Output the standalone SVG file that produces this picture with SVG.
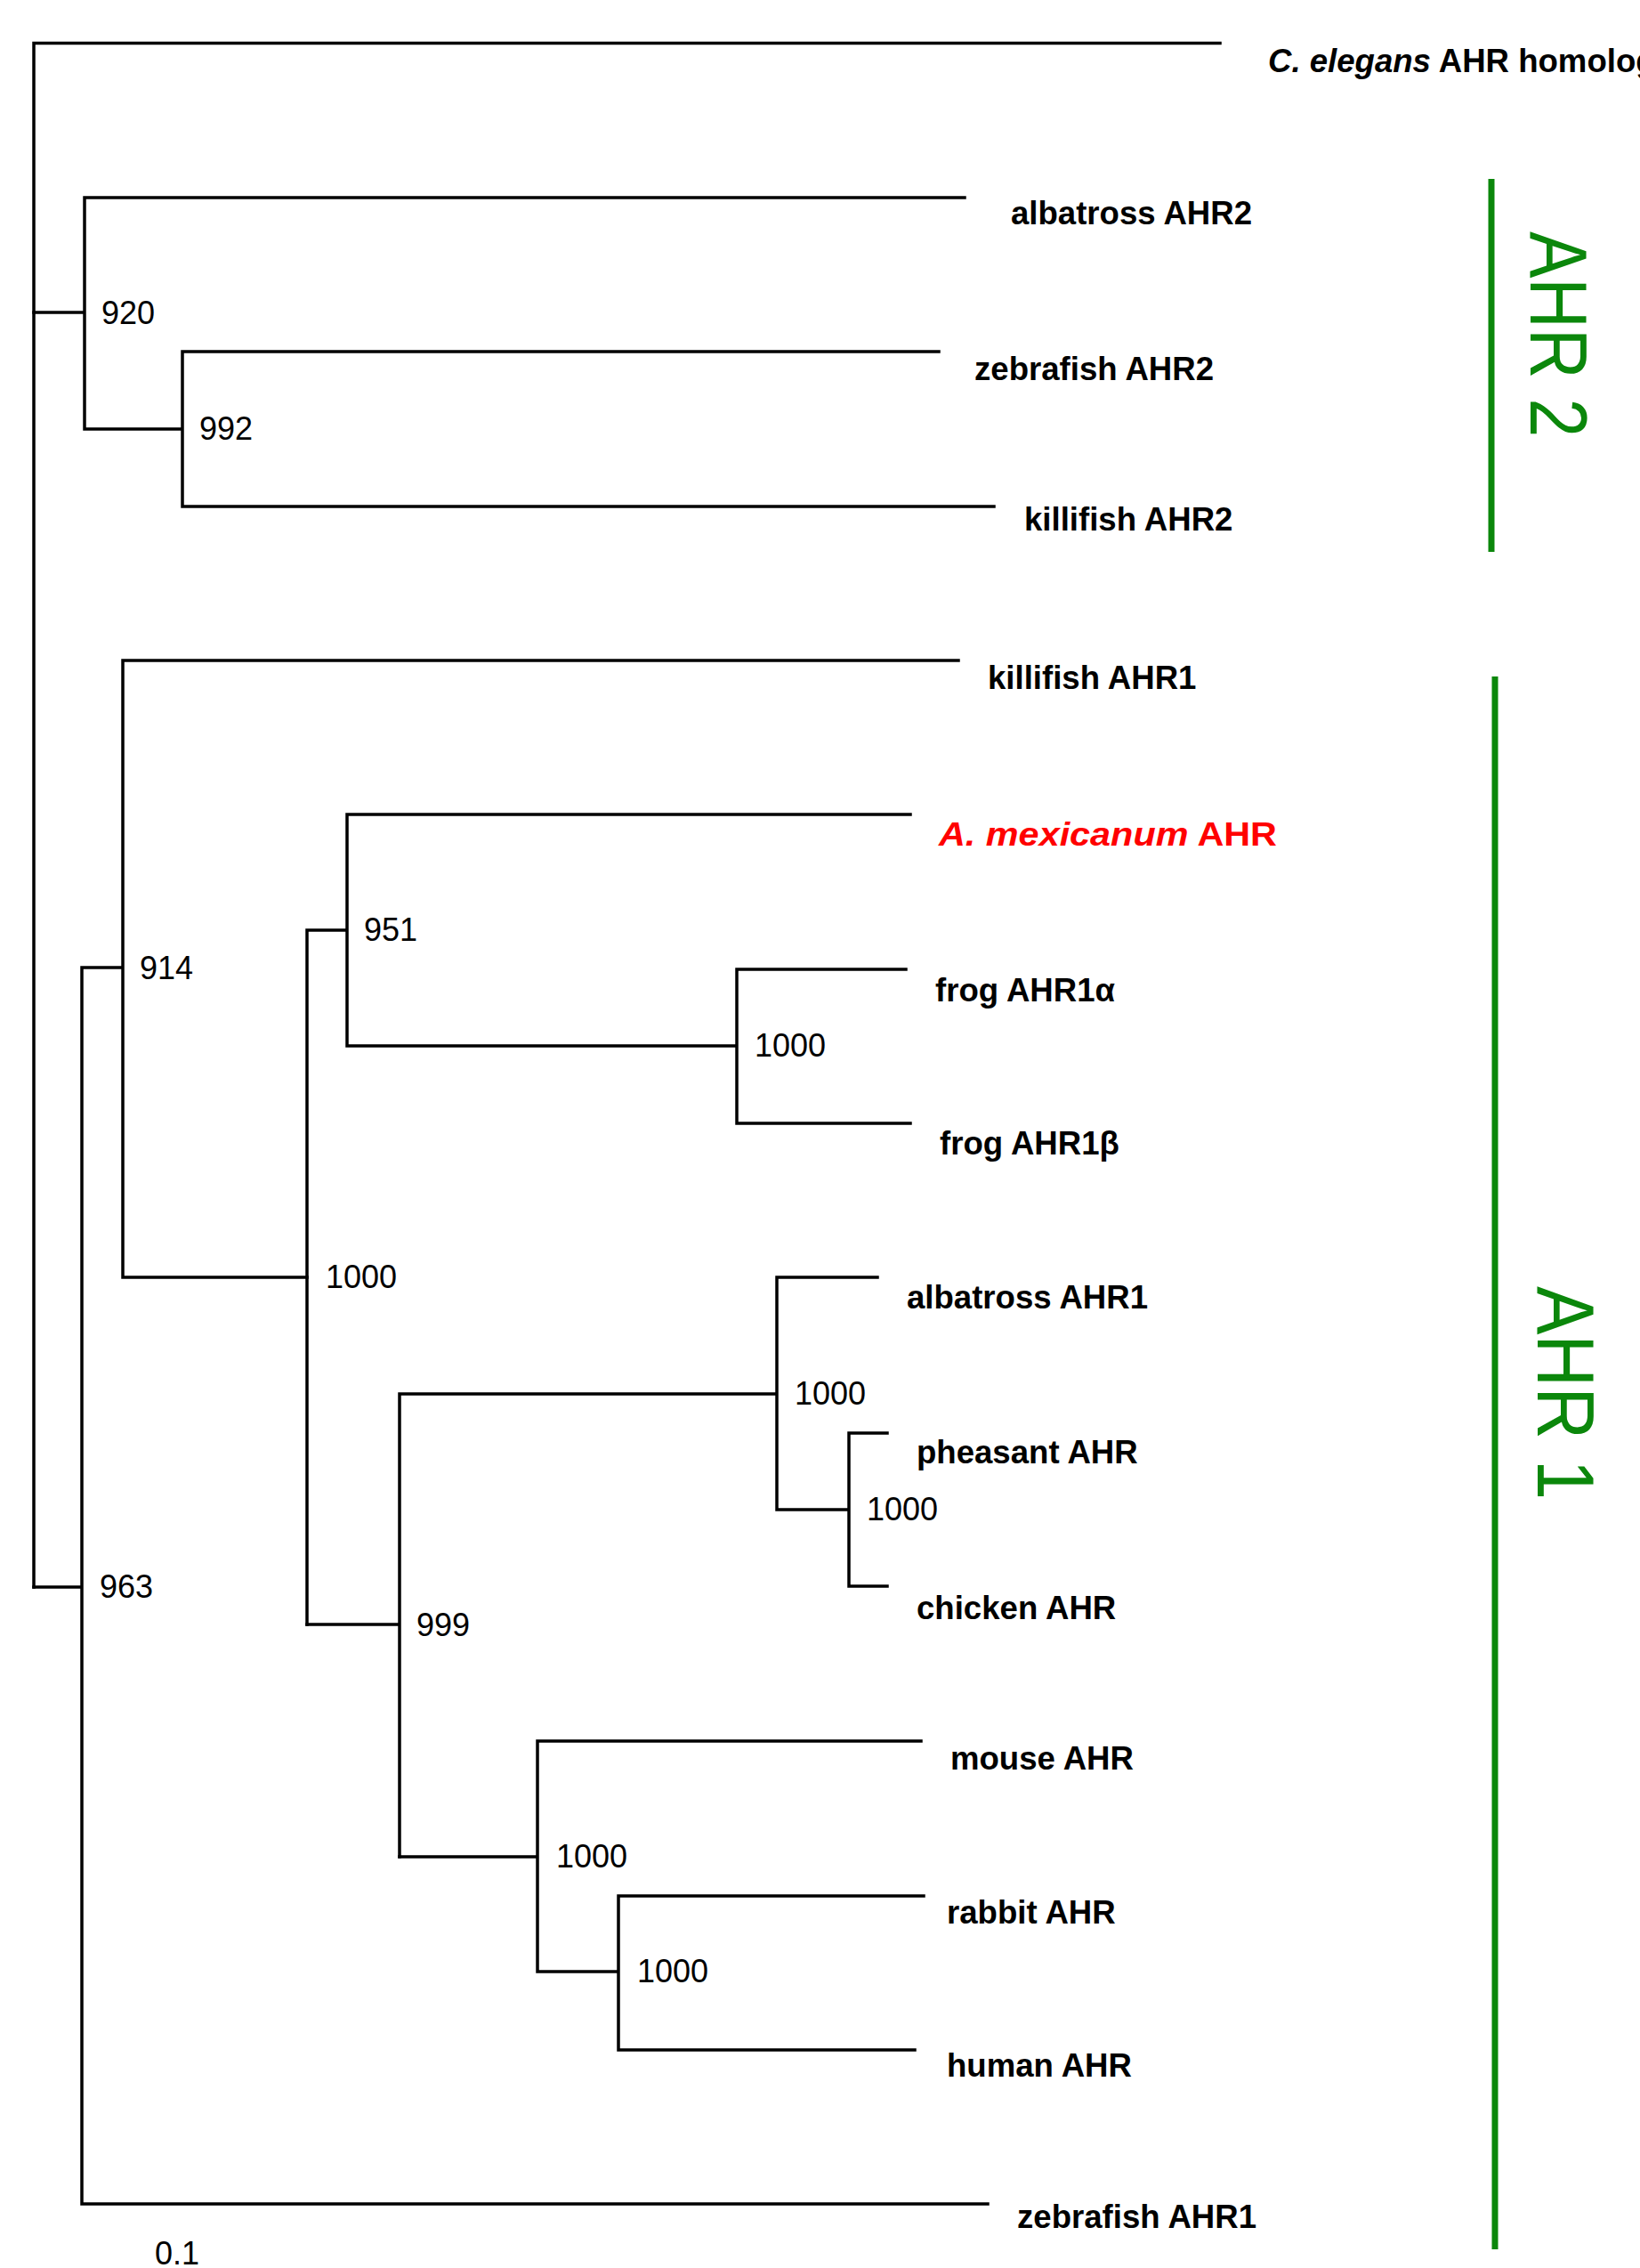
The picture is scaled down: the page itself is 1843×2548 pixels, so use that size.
<svg xmlns="http://www.w3.org/2000/svg" width="1843" height="2548" viewBox="0 0 1843 2548">
<style>
.br{fill:none;stroke:#000;stroke-width:3.5;stroke-linecap:square;stroke-linejoin:miter}
.bs{font-family:"Liberation Sans",Arial,sans-serif;font-size:36px;fill:#000}
.sp{font-family:"Liberation Sans",Arial,sans-serif;font-size:36.6px;font-weight:bold;fill:#000}
.grp{stroke:#0b870b;stroke-width:7;fill:none}
.gl{font-family:"Liberation Sans",Arial,sans-serif;font-size:90px;fill:#0b870b}
</style>
<rect width="1843" height="2548" fill="#fff"/>
<g id="connectors" class="br">
<path d="M38 48.5 V1783 M38 48.5 H1371"/>
<path d="M38 351 H95 M95 222 V482 M95 222 H1084 M95 482 H205 M205 395 V569 M205 395 H1055 M205 569 H1117"/>
<path d="M38 1783 H92 M92 1087 V2476 M92 2476 H1110 M92 1087 H138 M138 742 V1435 M138 742 H1077 M138 1435 H345"/>
<path d="M345 1045 V1825 M345 1045 H390 M390 915 V1175 M390 915 H1023 M390 1175 H828 M828 1089 V1262 M828 1089 H1018 M828 1262 H1023"/>
<path d="M345 1825 H449 M449 1566 V2086 M449 1566 H873 M873 1435 V1696 M873 1435 H986 M873 1696 H954 M954 1610 V1782 M954 1610 H997 M954 1782 H997"/>
<path d="M449 2086 H604 M604 1956 V2215 M604 1956 H1035 M604 2215 H695 M695 2130 V2303 M695 2130 H1038 M695 2303 H1028"/>
</g>
<g id="n920"><text class="bs" x="114" y="364">920</text></g>
<g id="n992"><text class="bs" x="224" y="494">992</text></g>
<g id="n963"><text class="bs" x="112" y="1795">963</text></g>
<g id="n914"><text class="bs" x="157" y="1100">914</text></g>
<g id="n1000a"><text class="bs" x="366" y="1447">1000</text></g>
<g id="n951"><text class="bs" x="409" y="1057">951</text></g>
<g id="n1000frog"><text class="bs" x="848" y="1187">1000</text></g>
<g id="n999"><text class="bs" x="468" y="1838">999</text></g>
<g id="n1000bird"><text class="bs" x="893" y="1578">1000</text></g>
<g id="n1000pc"><text class="bs" x="974" y="1708">1000</text></g>
<g id="n1000mam"><text class="bs" x="625" y="2098">1000</text></g>
<g id="n1000rh"><text class="bs" x="716" y="2227">1000</text></g>
<g id="celegans"><text class="sp" x="1425" y="81" font-size="40"><tspan font-style="italic">C. elegans</tspan> AHR homolog</text></g>
<g id="albatross2"><text class="sp" x="1136" y="252">albatross AHR2</text></g>
<g id="zebrafish2"><text class="sp" x="1095" y="427">zebrafish AHR2</text></g>
<g id="killifish2"><text class="sp" x="1151" y="596">killifish AHR2</text></g>
<g id="killifish1"><text class="sp" x="1110" y="774">killifish AHR1</text></g>
<g id="amexicanum"><text class="sp" x="1055" y="950" font-size="42" style="fill:#ff0000" textLength="380" lengthAdjust="spacingAndGlyphs"><tspan font-style="italic">A. mexicanum</tspan> AHR</text></g>
<g id="frog1a"><text class="sp" x="1051" y="1125">frog AHR1α</text></g>
<g id="frog1b"><text class="sp" x="1056" y="1297">frog AHR1β</text></g>
<g id="albatross1"><text class="sp" x="1019" y="1470">albatross AHR1</text></g>
<g id="pheasant"><text class="sp" x="1030" y="1644">pheasant AHR</text></g>
<g id="chicken"><text class="sp" x="1030" y="1819">chicken AHR</text></g>
<g id="mouse"><text class="sp" x="1068" y="1988">mouse AHR</text></g>
<g id="rabbit"><text class="sp" x="1064" y="2161">rabbit AHR</text></g>
<g id="human"><text class="sp" x="1064" y="2333">human AHR</text></g>
<g id="zebrafish1"><text class="sp" x="1143" y="2503">zebrafish AHR1</text></g>
<g id="scale"><text class="bs" x="174" y="2544">0.1</text></g>
<g id="groupAHR2">
<line class="grp" x1="1676" y1="201" x2="1676" y2="620"/>
<text class="gl" transform="translate(1720,260) rotate(90)" textLength="231" lengthAdjust="spacingAndGlyphs">AHR 2</text>
</g>
<g id="groupAHR1">
<line class="grp" x1="1680" y1="760" x2="1680" y2="2527"/>
<text class="gl" transform="translate(1728,1445) rotate(90)" textLength="240" lengthAdjust="spacingAndGlyphs">AHR 1</text>
</g>
</svg>
